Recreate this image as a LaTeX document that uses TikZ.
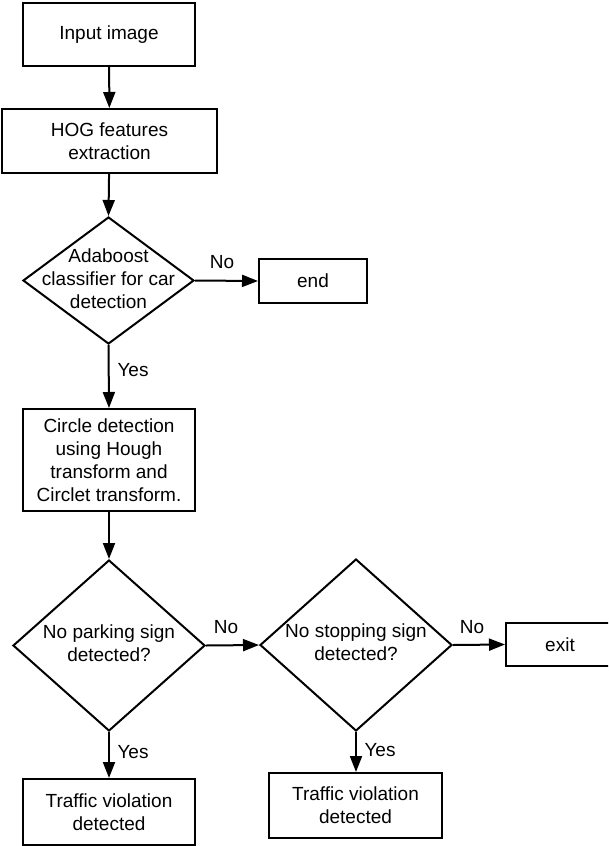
\documentclass[tikz,border=0pt]{standalone}
\usepackage{fontspec}
\setmainfont{Liberation Sans}
\usetikzlibrary{shapes.geometric,arrows.meta}
\begin{document}
\begin{tikzpicture}[x=1pt,y=1pt,
  every node/.style={font=\fontsize{19}{23}\selectfont},
  box/.style={draw,line width=2pt,rectangle,inner sep=0pt,align=center},
  dia/.style={draw,line width=2pt,diamond,inner sep=0pt},
  dtext/.style={align=center,inner sep=0pt},
  lbl/.style={inner sep=0pt},
  conn/.style={line width=2pt,-{Triangle[length=16pt,width=12pt]}}]
\useasboundingbox (0,0) rectangle (608,-846);
\clip (0,0) rectangle (608,-846);
\node[box,minimum width=172pt,minimum height=63pt] (in) at (109,-34.5) {Input image};
\node[box,minimum width=215pt,minimum height=64pt] (hog) at (109.5,-141) {HOG features\\extraction};
\node[dia,minimum width=171pt,minimum height=127pt] (d1) at (108.5,-280.5) {};
\node[dtext] (d1t) at (108.5,-279) {Adaboost\\classifier for car\\detection};
\node[box,minimum width=108pt,minimum height=44pt] (end) at (313,-281) {end};
\node[box,minimum width=172pt,minimum height=102pt] (circ) at (109,-460) {Circle detection\\using Hough\\transform and\\Circlet transform.};
\node[dia,minimum width=192pt,minimum height=171pt] (d2) at (109,-645.5) {};
\node[dtext] (d2t) at (109,-643) {No parking sign\\detected?};
\node[dia,minimum width=192pt,minimum height=172pt] (d3) at (356,-645) {};
\node[dtext] (d3t) at (356,-642) {No stopping sign\\detected?};
\node[box,minimum width=108pt,minimum height=43pt] (exit) at (560,-644.5) {exit};
\node[box,minimum width=172pt,minimum height=66pt] (t1) at (109,-812) {Traffic violation\\detected};
\node[box,minimum width=173pt,minimum height=65pt] (t2) at (355.5,-805.5) {Traffic violation\\detected};
\draw[conn] (in) -- (hog);
\draw[conn] (hog) -- (d1.north);
\draw[conn] (d1.east) -- (end.west);
\draw[conn] (d1.south) -- (circ.north);
\draw[conn] (circ) -- (d2.north);
\draw[conn] (d2.east) -- (d3.west);
\draw[conn] (d2.south) -- (t1.north);
\draw[conn] (d3.east) -- (exit.west);
\draw[conn] (d3.south) -- (t2.north -| d3.south);
\node[lbl] (n1) at (222,-262) {No};
\node[lbl] (n2) at (226,-627) {No};
\node[lbl] (n3) at (472,-627) {No};
\node[lbl] (y1) at (133,-370) {Yes};
\node[lbl] (y2) at (133,-752) {Yes};
\node[lbl] (y3) at (380,-750) {Yes};
\end{tikzpicture}
\end{document}
